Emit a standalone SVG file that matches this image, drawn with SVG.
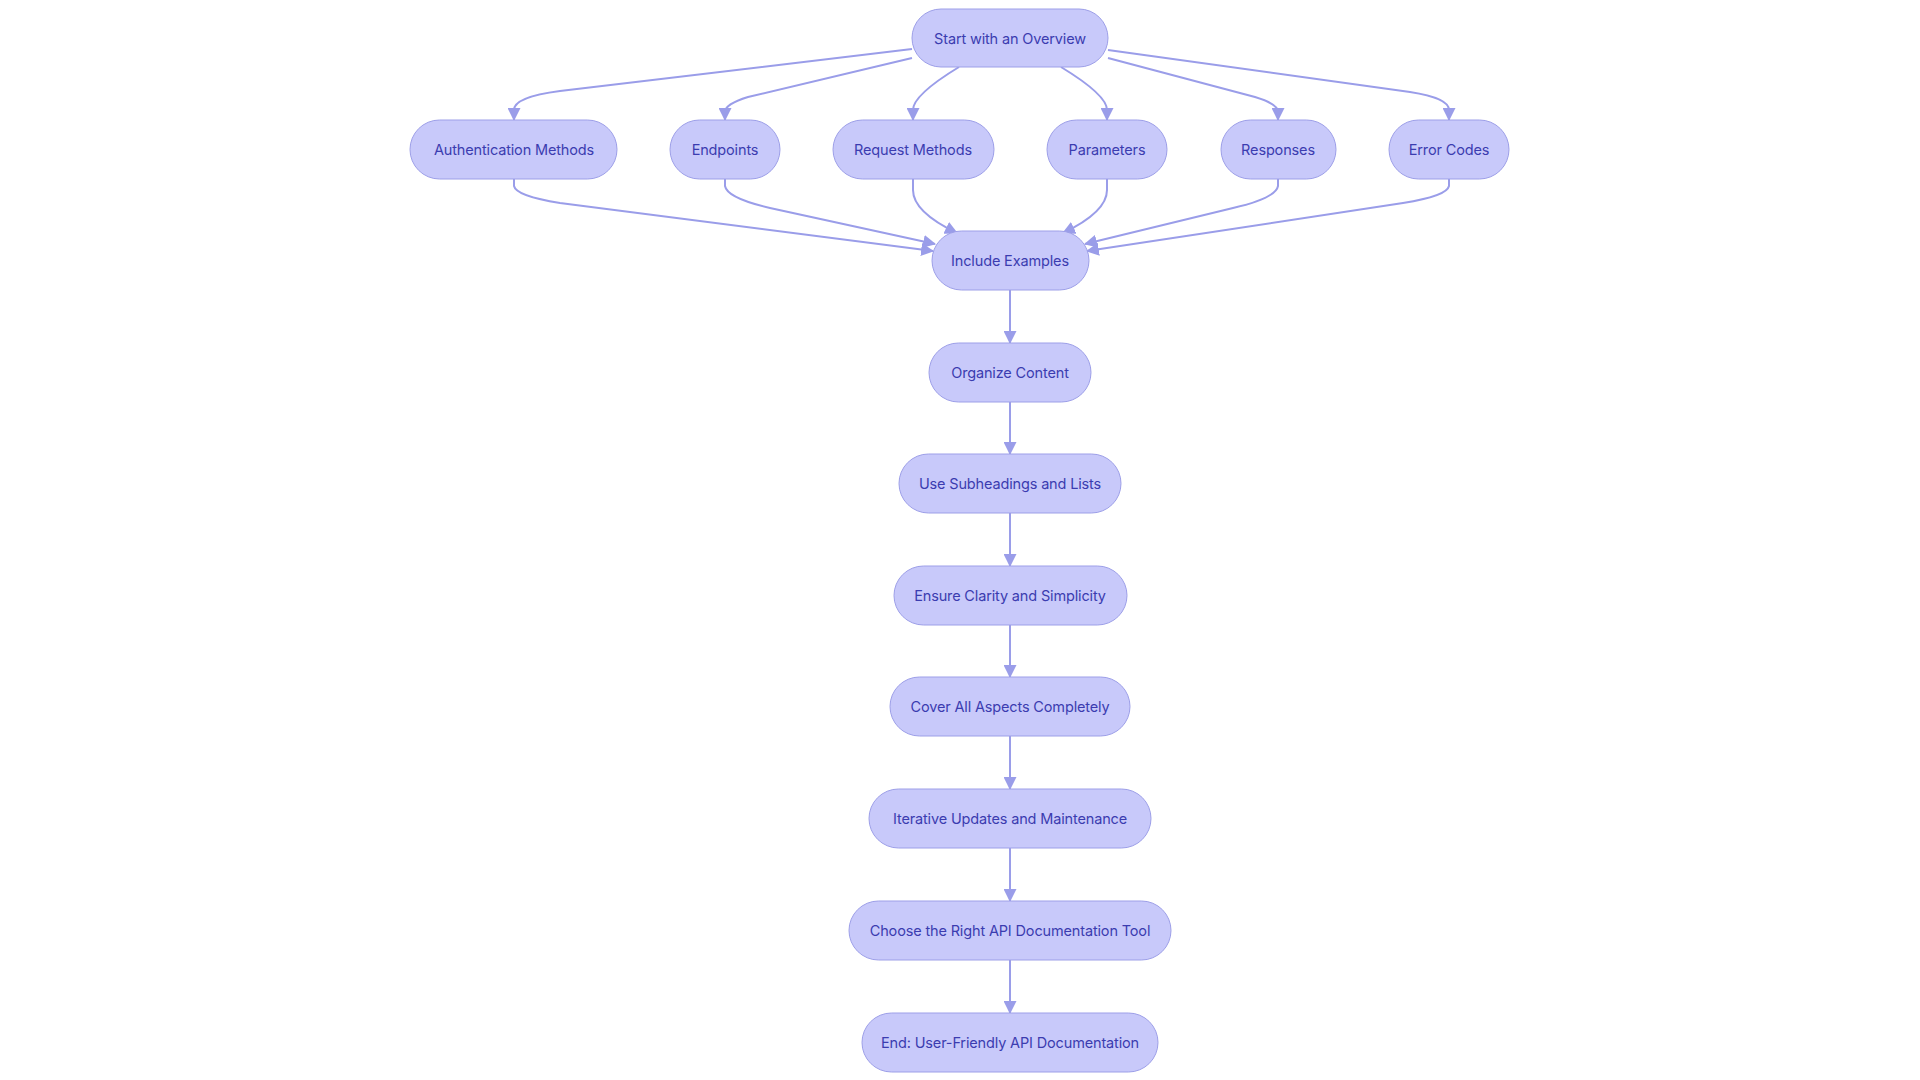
<svg xmlns="http://www.w3.org/2000/svg" width="1920" height="1080" viewBox="0 0 1920 1080">
<defs>
<style>
.node rect{fill:#c8c9fa;stroke:#9d9fe8;stroke-width:1}
.node text{font-family:Inter,"Noto Sans","Liberation Sans",sans-serif;font-size:14.5px;letter-spacing:-0.15px;fill:#3b3cb0;text-anchor:middle;dominant-baseline:central}
.edges path{fill:none;stroke:#9a9de9;stroke-width:2;marker-end:url(#arr)}
</style>
<marker id="arr" viewBox="0 0 12 12" refX="11" refY="6" markerWidth="13" markerHeight="13" markerUnits="userSpaceOnUse" orient="auto">
<path d="M0,0 L12,6 L0,12 z" fill="#9a9de9"/>
</marker>
</defs>
<rect width="1920" height="1080" fill="#ffffff"/>
<g class="edges">
<path d="M912,49 L560,91 Q514,97 514,110 L514,120"/>
<path d="M912,58 L748,97 Q725,104 725,112 L725,120"/>
<path d="M959,67 Q913,95 913,110 L913,120"/>
<path d="M1061,67 Q1107,95 1107,110 L1107,120"/>
<path d="M1108,58 L1255,97 Q1278,104 1278,112 L1278,120"/>
<path d="M1108,50 L1410,92 Q1449,98 1449,110 L1449,120"/>
<path d="M514,179 L514,186 Q516,196 560,203 L933,251"/>
<path d="M725,179 L725,186 Q727,198 770,208 L935,244"/>
<path d="M913,179 L913,190 Q913,212 957,233"/>
<path d="M1107,179 L1107,190 Q1107,212 1063,233"/>
<path d="M1278,179 L1278,186 Q1276,198 1233,208 L1085,244"/>
<path d="M1449,179 L1449,186 Q1447,196 1403,203 L1087,251"/>
<path d="M1010,290 L1010,343"/>
<path d="M1010,402 L1010,454"/>
<path d="M1010,513 L1010,566"/>
<path d="M1010,625 L1010,677"/>
<path d="M1010,736 L1010,789"/>
<path d="M1010,848 L1010,901"/>
<path d="M1010,960 L1010,1013"/>
</g>
<g id="start" class="node"><rect x="912" y="9" width="196" height="58" rx="29"/><text x="1010" y="38">Start with an Overview</text></g>
<g id="auth" class="node"><rect x="410" y="120" width="207" height="59" rx="29.5"/><text x="514" y="149.5">Authentication Methods</text></g>
<g id="endpoints" class="node"><rect x="670" y="120" width="110" height="59" rx="29.5"/><text x="725" y="149.5">Endpoints</text></g>
<g id="request" class="node"><rect x="833" y="120" width="161" height="59" rx="29.5"/><text x="913" y="149.5">Request Methods</text></g>
<g id="parameters" class="node"><rect x="1047" y="120" width="120" height="59" rx="29.5"/><text x="1107" y="149.5">Parameters</text></g>
<g id="responses" class="node"><rect x="1221" y="120" width="115" height="59" rx="29.5"/><text x="1278" y="149.5">Responses</text></g>
<g id="errors" class="node"><rect x="1389" y="120" width="120" height="59" rx="29.5"/><text x="1449" y="149.5">Error Codes</text></g>
<g id="examples" class="node"><rect x="932" y="231" width="157" height="59" rx="29.5"/><text x="1010" y="260.5">Include Examples</text></g>
<g id="organize" class="node"><rect x="929" y="343" width="162" height="59" rx="29.5"/><text x="1010" y="372.5">Organize Content</text></g>
<g id="subheadings" class="node"><rect x="899" y="454" width="222" height="59" rx="29.5"/><text x="1010" y="483.5">Use Subheadings and Lists</text></g>
<g id="clarity" class="node"><rect x="894" y="566" width="233" height="59" rx="29.5"/><text x="1010" y="595.5">Ensure Clarity and Simplicity</text></g>
<g id="cover" class="node"><rect x="890" y="677" width="240" height="59" rx="29.5"/><text x="1010" y="706.5">Cover All Aspects Completely</text></g>
<g id="iterative" class="node"><rect x="869" y="789" width="282" height="59" rx="29.5"/><text x="1010" y="818.5">Iterative Updates and Maintenance</text></g>
<g id="tool" class="node"><rect x="849" y="901" width="322" height="59" rx="29.5"/><text x="1010" y="930.5">Choose the Right API Documentation Tool</text></g>
<g id="end" class="node"><rect x="862" y="1013" width="296" height="59" rx="29.5"/><text x="1010" y="1042.5">End: User-Friendly API Documentation</text></g>
</svg>
